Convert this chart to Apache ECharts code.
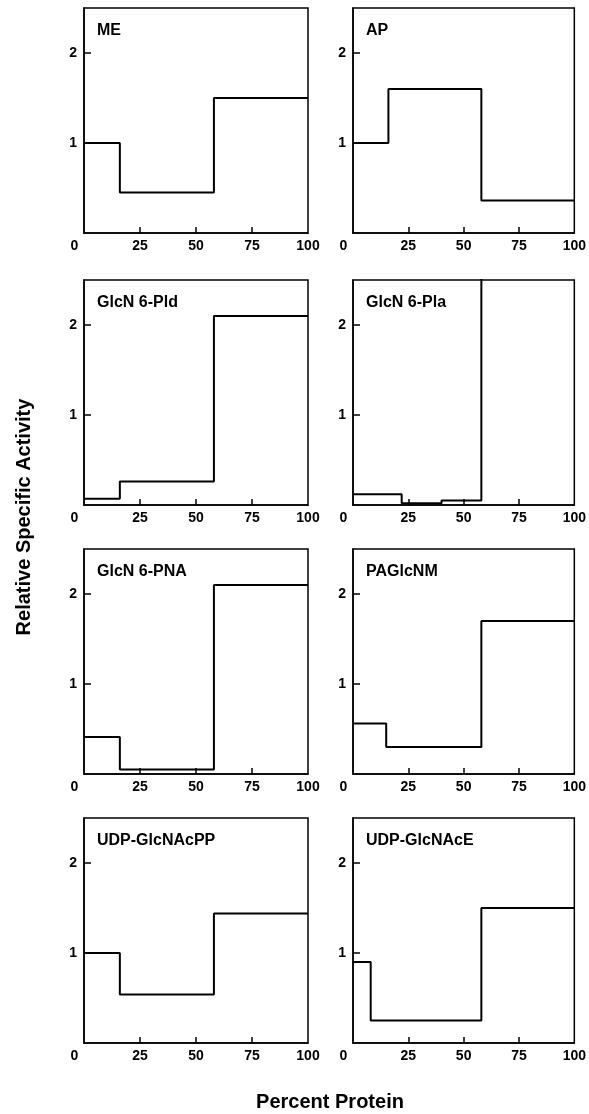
<!DOCTYPE html>
<html lang="en">
<head>
    <meta charset="UTF-8">
    <title>Relative Specific Activity</title>
    <script src="https://cdn.jsdelivr.net/npm/echarts@6/dist/echarts.min.js"></script>
    <style>
        html, body { margin: 0; padding: 0; background: #fff; }
        #main { width: 589px; height: 1114px; }
    </style>
</head>
<body>
<div id="main"></div>

<script type="text/javascript">
    // panel data: step edges (percent protein) and the value of each step
    var panelNames = ['ME', 'AP', 'GlcN 6-Pld', 'GlcN 6-Pla', 'GlcN 6-PNA', 'PAGlcNM', 'UDP-GlcNAcPP', 'UDP-GlcNAcE'];
    var stepEdges = [
        [0, 16, 58, 100],
        [0, 16, 58, 100],
        [0, 16, 58, 100],
        [0, 22, 40, 58, 100],
        [0, 16, 58, 100],
        [0, 15, 58, 100],
        [0, 16, 58, 100],
        [0, 8, 58, 100]
    ];
    var stepValues = [
        [1.0, 0.45, 1.5],
        [1.0, 1.6, 0.36],
        [0.07, 0.26, 2.1],
        [0.12, 0.02, 0.05, 3.0],
        [0.41, 0.05, 2.1],
        [0.56, 0.3, 1.7],
        [1.0, 0.54, 1.44],
        [0.9, 0.25, 1.5]
    ];
    var xTickValues = [25, 50, 75];
    var xLabelValues = [0, 25, 50, 75, 100];
    var yTickValues = [1, 2];

    var font = '"Liberation Sans", Arial, Helvetica, sans-serif';
    var rowTops = [8, 280, 549, 818];
    var colLefts = [84, 353];

    var myChart = echarts.init(document.getElementById('main'));

    var grids = [], xAxes = [], yAxes = [], series = [], titles = [];
    panelNames.forEach(function (name, i) {
        var left = colLefts[i % 2], top = rowTops[Math.floor(i / 2)];
        grids.push({
            left: left, top: top, width: 224, height: 225,
            show: true, borderColor: '#000', borderWidth: 1.5, backgroundColor: 'transparent'
        });
        xAxes.push({
            gridIndex: i, type: 'value', min: 0, max: 100, interval: 25,
            axisLine: { show: true, lineStyle: { color: '#000', width: 1.5 } },
            axisTick: { show: true, inside: true, length: 6, customValues: xTickValues, lineStyle: { color: '#000', width: 1.5 } },
            axisLabel: {
                customValues: xLabelValues, margin: 6, color: '#000',
                fontFamily: font, fontWeight: 'bold', fontSize: 14,
                formatter: function (v) { return v === 0 ? '{z|0}' : String(v); },
                rich: { z: { padding: [0, 19, 0, 0], fontFamily: font, fontWeight: 'bold', fontSize: 14, color: '#000' } }
            },
            splitLine: { show: false }
        });
        yAxes.push({
            gridIndex: i, type: 'value', min: 0, max: 2.5, interval: 1,
            axisLine: { show: true, lineStyle: { color: '#000', width: 1.5 } },
            axisTick: { show: true, inside: true, length: 7, customValues: yTickValues, lineStyle: { color: '#000', width: 1.5 } },
            axisLabel: {
                customValues: yTickValues, margin: 7, color: '#000',
                fontFamily: font, fontWeight: 'bold', fontSize: 14
            },
            splitLine: { show: false }
        });
        // step 'end': each value is held until the next edge
        var pts = [];
        var edges = stepEdges[i], vals = stepValues[i];
        for (var k = 0; k < vals.length; k++) pts.push([edges[k], vals[k]]);
        pts.push([edges[edges.length - 1], vals[vals.length - 1]]);
        series.push({
            type: 'line', xAxisIndex: i, yAxisIndex: i, step: 'end',
            data: pts, showSymbol: false, clip: true, silent: true,
            lineStyle: { color: '#000', width: 2 }
        });
        titles.push({
            text: name, left: left + 8, top: top + 10,
            textStyle: { fontFamily: font, fontWeight: 'bold', fontSize: 16, color: '#000' }
        });
    });

    myChart.setOption({
        animation: false,
        title: titles,
        grid: grids,
        xAxis: xAxes,
        yAxis: yAxes,
        series: series,
        graphic: [
            {
                type: 'text', x: 24, y: 517, rotation: Math.PI / 2,
                style: {
                    text: 'Relative Specific Activity', fill: '#000',
                    font: 'bold 20px ' + font, align: 'center', verticalAlign: 'middle'
                }
            },
            {
                type: 'text', x: 330, y: 1102,
                style: {
                    text: 'Percent Protein', fill: '#000',
                    font: 'bold 20px ' + font, align: 'center', verticalAlign: 'middle'
                }
            }
        ]
    });
</script>
</body>
</html>
